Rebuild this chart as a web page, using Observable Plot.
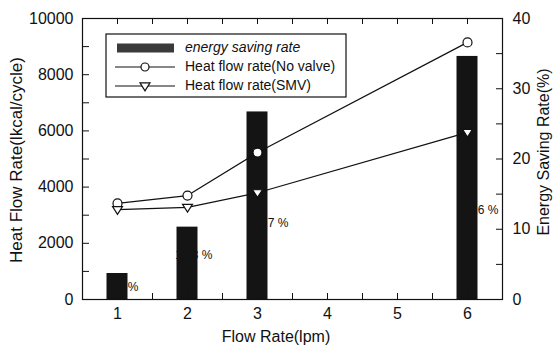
<!DOCTYPE html>
<html><head><meta charset="utf-8">
<script src="https://cdn.jsdelivr.net/npm/d3@7"></script>
<script src="https://cdn.jsdelivr.net/npm/@observablehq/plot@0.6"></script>
<style>body{margin:0;background:#fff} #chart{width:553px;height:347px}</style>
</head><body><div id="chart"></div>
<script>
const flowRates = [1, 2, 3, 6];
const savingRate = [3.7, 10.3, 26.7, 34.6];
const savingLabelPos = [1.7, 6.3, 10.8, 12.7];
const savingLabelShift = [21, 25, 31, 31];
const heatNoValve = [3420, 3700, 5230, 9150];
const heatSMV = [3200, 3280, 3800, 5950];
const xTicks = [1, 1.5, 2, 2.5, 3, 3.5, 4, 4.5, 5, 5.5, 6];
const leftTicks = [0, 1000, 2000, 3000, 4000, 5000, 6000, 7000, 8000, 9000, 10000];
const rightTicks = [0, 5, 10, 15, 20, 25, 30, 35, 40];
const legendNames = ["energy saving rate", "Heat flow rate(No valve)", "Heat flow rate(SMV)"];
const heatMax = 10000, pctMax = 40;
const k = heatMax / pctMax;

const rows = flowRates.map((f, i) => ({
  flow: f, saving: savingRate[i], labelPos: savingLabelPos[i], shift: savingLabelShift[i],
  noValve: heatNoValve[i], smv: heatSMV[i]
}));

const triDown = {
  draw(ctx, size) {
    const r = Math.sqrt(size) * 0.62;
    ctx.moveTo(-r, -r * 0.6);
    ctx.lineTo(r, -r * 0.6);
    ctx.lineTo(0, r * 0.95);
    ctx.closePath();
  }
};

const ink = "#111";
const marks = [];
rows.forEach(r => {
  marks.push(Plot.text([r], {x: "flow", y: d => d.labelPos * k, text: d => `${d.saving} %`, textAnchor: "end", dx: r.shift, fontSize: 12, fill: ink, ariaLabel: "saving-label"}));
});
marks.push(
  Plot.rectY(rows, {x1: d => d.flow - 0.15, x2: d => d.flow + 0.15, y1: 0, y2: d => d.saving * k, fill: "#141414"}),
  Plot.line(rows, {x: "flow", y: "noValve", stroke: ink, strokeWidth: 1.2}),
  Plot.line(rows, {x: "flow", y: "smv", stroke: ink, strokeWidth: 1.2}),
  Plot.dot(rows, {x: "flow", y: "noValve", r: 4.5, fill: "white", stroke: ink, strokeWidth: 1.2}),
  Plot.dot(rows, {x: "flow", y: "smv", r: 4.5, symbol: triDown, fill: "white", stroke: ink, strokeWidth: 1.2}),
  Plot.axisY(leftTicks, {anchor: "left", tickSize: -7, tickPadding: 16, label: null, tickFormat: d => d % 2000 === 0 ? String(d) : ""}),
  Plot.axisY(rightTicks.map(p => p * k), {anchor: "right", tickSize: -7, tickPadding: 17, label: null, tickFormat: v => (v / k) % 10 === 0 ? String(v / k) : ""}),
  Plot.axisX(xTicks, {anchor: "bottom", tickSize: -6, tickPadding: 14, label: null, tickFormat: d => Number.isInteger(d) ? String(d) : ""}),
  Plot.axisX(xTicks, {anchor: "top", tickSize: -5, tickPadding: 0, label: null, tickFormat: () => ""}),
  Plot.frame({stroke: ink, strokeWidth: 1.2})
);

const chart = Plot.plot({
  width: 553, height: 347,
  marginLeft: 82, marginRight: 51, marginTop: 18, marginBottom: 48,
  style: {fontFamily: "'Liberation Sans', Arial, sans-serif", fontSize: "16px", color: ink, background: "white"},
  x: {domain: [0.5, 6.5]},
  y: {domain: [0, heatMax]},
  marks
});

const svg = d3.select(chart);
// keep the percentage labels underneath the bars (as in the reference)
svg.selectAll("g[aria-label='saving-label']").lower();

svg.append("text").attr("transform", "translate(18,160) rotate(-90)")
  .attr("text-anchor", "middle").attr("dominant-baseline", "middle")
  .attr("font-size", 17).attr("fill", ink).text("Heat Flow Rate(lkcal/cycle)");
svg.append("text").attr("transform", "translate(545,152) rotate(-90)")
  .attr("text-anchor", "middle").attr("dominant-baseline", "middle")
  .attr("font-size", 16).attr("fill", ink).text("Energy Saving Rate(%)");
svg.append("text").attr("x", 276).attr("y", 338)
  .attr("text-anchor", "middle").attr("dominant-baseline", "middle")
  .attr("font-size", 16).attr("fill", ink).text("Flow Rate(lpm)");

const lg = svg.append("g");
lg.append("rect").attr("x", 106).attr("y", 34).attr("width", 240).attr("height", 63)
  .attr("fill", "white").attr("stroke", ink).attr("stroke-width", 1.2);
const rowsY = [48, 67, 86];
lg.append("rect").attr("x", 117).attr("y", rowsY[0] - 4.5).attr("width", 57).attr("height", 9).attr("fill", "#3a3a3a");
lg.append("line").attr("x1", 115).attr("x2", 175).attr("y1", rowsY[1]).attr("y2", rowsY[1]).attr("stroke", ink).attr("stroke-width", 1.2);
lg.append("circle").attr("cx", 145).attr("cy", rowsY[1]).attr("r", 4).attr("fill", "white").attr("stroke", ink).attr("stroke-width", 1.2);
lg.append("line").attr("x1", 115).attr("x2", 175).attr("y1", rowsY[2]).attr("y2", rowsY[2]).attr("stroke", ink).attr("stroke-width", 1.2);
lg.append("path").attr("transform", `translate(145,${rowsY[2]})`).attr("d", "M-5,-3.2L5,-3.2L0,4.8Z").attr("fill", "white").attr("stroke", ink).attr("stroke-width", 1.2);
legendNames.forEach((n, i) => {
  lg.append("text").attr("x", 185).attr("y", rowsY[i]).attr("dominant-baseline", "middle")
    .attr("text-anchor", "start")
    .attr("font-size", 14).attr("fill", ink).attr("font-style", i === 0 ? "italic" : "normal").text(n);
});

document.getElementById("chart").appendChild(chart);
</script>
</body></html>
